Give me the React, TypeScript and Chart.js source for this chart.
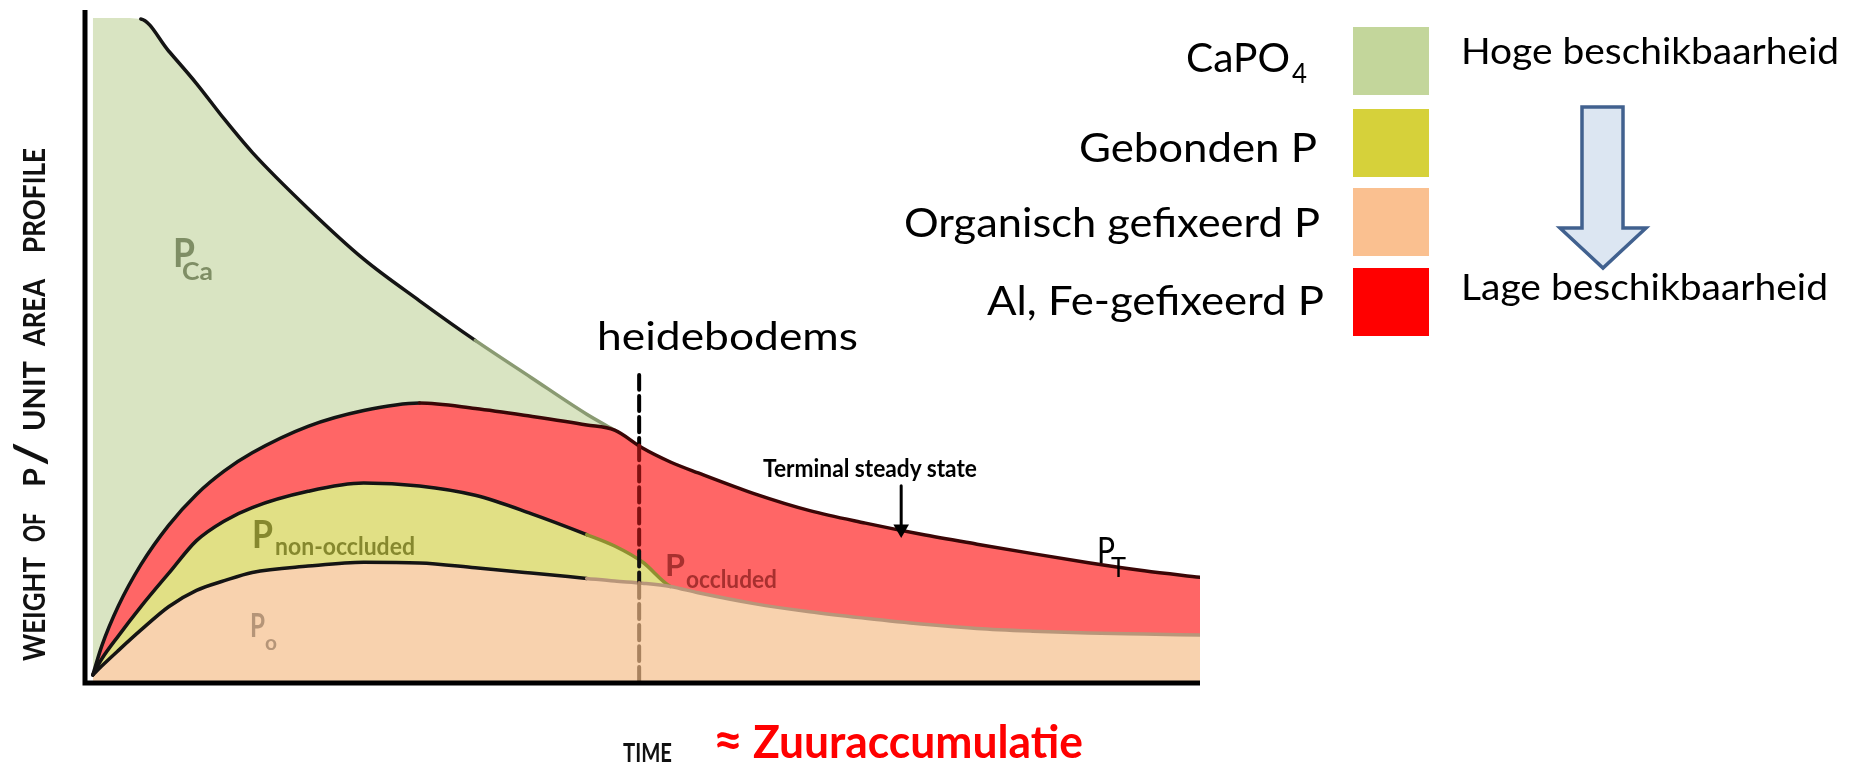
import React, { useEffect, useRef } from "react";
import { Chart, registerables } from "chart.js";
Chart.register(...registerables);

// Time axis (0..100) and weight of P (0..100)
const TIME = [0.7, 1.5, 3, 5, 7.5, 10, 12.5, 15, 20, 25, 30, 35, 40, 45, 47.5, 50, 52.5, 55, 60, 65, 70, 75, 80, 85, 90, 95, 100];
const P_ORGANIC = [1.2, 2.53, 4.86, 7.87, 11.37, 13.8, 15.25, 16.48, 17.42, 18.0, 17.9, 17.17, 16.39, 15.59, 15.19, 14.87, 14.38, 13.44, 11.83, 10.61, 9.64, 8.78, 8.12, 7.72, 7.44, 7.29, 7.15];
const P_NONOCCLUDED_TOP = [1.2, 3.58, 7.03, 11.34, 16.33, 21.22, 24.16, 26.15, 28.57, 29.81, 29.36, 27.97, 25.25, 22.12, 20.42, 18.03, 14.38, 13.44, 11.83, 10.61, 9.64, 8.78, 8.12, 7.72, 7.44, 7.29, 7.15];
const P_TOTAL_NON_CA = [1.2, 5.5, 11.5, 17.6, 23.5, 28.1, 31.6, 34.3, 38.24, 40.6, 41.73, 40.91, 39.75, 38.46, 37.68, 35.02, 32.94, 31.3, 28.23, 25.69, 23.83, 22.16, 20.69, 19.28, 17.93, 16.72, 15.74];
const P_TOTAL = [99.1, 99.1, 99.1, 98.96, 94.19, 89.34, 84.02, 79.08, 70.72, 63.16, 56.96, 51.06, 45.54, 40.06, 37.68, null, null, null, null, null, null, null, null, null, null, null, null];

// "heidebodems" marker (dashed line) and terminal steady state arrow
const HEIDE_T = 49.7;
const HEIDE_LEVELS = [45.9, 35.4, 19.6, 14.9, 0];
const TERMINAL_T = 73.2;
const TERMINAL_LEVELS = [29.4, 22.95];

const LEGEND_ITEMS = ["CaPO", "Gebonden P", "Organisch gefixeerd P", "Al, Fe-gefixeerd P"];
const LEGEND_COLORS = ["#c3d69b", "#d6d13a", "#fac090", "#ff0000"];

const F = "Lato, 'Open Sans', sans-serif";

export default function App() {
  const ref = useRef<HTMLCanvasElement>(null);
  useEffect(() => {
    if (!ref.current) return;
    const pts = (ys: (number | null)[]) => TIME.map((t, i) => ({ x: t, y: ys[i] }));
    const axesPlugin = {
      id: "axesLines",
      afterDatasetsDraw(chart: any) {
        const { ctx, chartArea: a, scales } = chart;
        ctx.save();
        ctx.strokeStyle = "#000";
        ctx.lineWidth = 5;
        ctx.lineJoin = "miter";
        ctx.beginPath();
        ctx.moveTo(a.left, scales.y.getPixelForValue(100) - 2);
        ctx.lineTo(a.left, a.bottom);
        ctx.lineTo(a.right, a.bottom);
        ctx.stroke();
        ctx.restore();
      },
    };
    const area = (label: string, ys: (number | null)[], fill: any, color: string) => ({
      label,
      data: pts(ys),
      fill,
      backgroundColor: color,
      borderColor: "rgba(0,0,0,0)",
      borderWidth: 0,
      order: 2,
    });
    const edge = (label: string, ys: (number | null)[], colorAt: (x: number) => string) => ({
      label,
      data: pts(ys),
      fill: false,
      borderColor: "#141414",
      borderWidth: 3.5,
      segment: { borderColor: (c: any) => colorAt(c.p0.parsed.x) },
      order: 1,
    });
    const none = "rgba(0,0,0,0)";
    const chart = new Chart(ref.current, {
      type: "line",
      data: {
        datasets: [
          area("P_o", P_ORGANIC, "origin", "#f8d2ae"),
          area("P_non-occluded", P_NONOCCLUDED_TOP, "-1", "#e1e085"),
          area("P_occluded", P_TOTAL_NON_CA, "-1", "#ff6666"),
          area("P_Ca", P_TOTAL, "-1", "#d9e4c2"),
          edge("P_o line", P_ORGANIC, (x) => (x >= 45 ? "#b8967a" : "#141414")),
          edge("P_non-occluded line", P_NONOCCLUDED_TOP, (x) => (x >= 52 ? none : x >= 45 ? "#8f8f30" : "#141414")),
          edge("P_T line", P_TOTAL_NON_CA, (x) => (x >= 30 ? "#3a0606" : "#141414")),
          edge("P_Ca line", P_TOTAL, (x) => (x < 4.9 ? none : x >= 31 ? "#8a9a72" : "#141414")),
          {
            label: "heidebodems",
            data: HEIDE_LEVELS.map((v) => ({ x: HEIDE_T, y: v })),
            fill: false,
            borderWidth: 4,
            borderDash: [15, 6],
            tension: 0,
            borderColor: "#000",
            segment: {
              borderColor: (c: any) => ["#000", "#7e1010", "#111", "#a8825f"][c.p0DataIndex],
            },
            order: 0,
          },
          {
            label: "terminal",
            data: TERMINAL_LEVELS.map((v) => ({ x: TERMINAL_T, y: v })),
            fill: false,
            borderWidth: 3,
            tension: 0,
            borderColor: "#000",
            pointRadius: [0, 9],
            pointStyle: "triangle",
            pointRotation: 180,
            pointBackgroundColor: "#000",
            pointBorderWidth: 0,
            order: 0,
          },
        ] as any,
      },
      options: {
        animation: false,
        responsive: false,
        devicePixelRatio: 1,
        layout: { padding: { left: 85, right: 653, top: 12, bottom: 81 } },
        elements: {
          point: { radius: 0, hoverRadius: 0 },
          line: { cubicInterpolationMode: "monotone", borderCapStyle: "round" },
        },
        scales: {
          x: { type: "linear", min: 0, max: 100, display: false },
          y: { type: "linear", min: 0, max: 100, display: false },
        },
        plugins: { legend: { display: false }, tooltip: { enabled: false } },
      } as any,
      plugins: [axesPlugin],
    });
    return () => chart.destroy();
  }, []);

  const yWords: [string, number, number][] = [
    ["PROFILE", 253, 105],
    ["AREA", 346, 67],
    ["UNIT", 431, 70],
    ["P", 487, 19],
    ["OF", 542, 29],
    ["WEIGHT", 661, 104],
  ];
  const legendY = [72, 162, 237, 315];
  const legendX = [1186, 1079, 904, 987];
  const legendW = [104, 238, 416, 337];
  const swatchY = [27, 109, 188, 268];

  return (
    <div style={{ position: "absolute", left: 0, top: 0, width: 1853, height: 764, background: "#fff", overflow: "hidden" }}>
      <canvas ref={ref} width={1853} height={764} style={{ position: "absolute", left: 0, top: 0, width: 1853, height: 764 }} />
      <svg width={1853} height={764} style={{ position: "absolute", left: 0, top: 0, pointerEvents: "none" }} fontFamily={F}>
        {/* Legend */}
        {LEGEND_ITEMS.map((s, i) => (
          <text key={s} x={legendX[i]} y={legendY[i]} fontSize={41} fill="#000" textLength={legendW[i]} lengthAdjust="spacingAndGlyphs">{s}</text>
        ))}
        <text x={1292} y={83} fontSize={27} fill="#000" textLength={15} lengthAdjust="spacingAndGlyphs">4</text>
        {LEGEND_COLORS.map((c, i) => (
          <rect key={c} x={1353} y={swatchY[i]} width={76} height={68} fill={c} />
        ))}
        <text x={1461} y={64} fontSize={36} fill="#000" textLength={378} lengthAdjust="spacingAndGlyphs">Hoge beschikbaarheid</text>
        <text x={1461} y={300} fontSize={36} fill="#000" textLength={367} lengthAdjust="spacingAndGlyphs">Lage beschikbaarheid</text>
        <polygon points="1582,107 1623,107 1623,228 1646,228 1603,268 1560,228 1582,228" fill="#dce6f2" stroke="#41618f" strokeWidth={3.5} strokeLinejoin="miter" />

        {/* Chart annotations */}
        <text x={597} y={350} fontSize={38} fill="#000" textLength={261} lengthAdjust="spacingAndGlyphs">heidebodems</text>
        <text x={623} y={762} fontSize={27} fontWeight={700} fill="#111" textLength={49} lengthAdjust="spacingAndGlyphs">TIME</text>
        <text x={713} y={758} fontSize={52} fontWeight={700} fill="#ff0000" textLength={30} lengthAdjust="spacingAndGlyphs">≈</text>
        <text x={753} y={758} fontSize={46} fontWeight={700} fill="#ff0000" textLength={330} lengthAdjust="spacingAndGlyphs">Zuuraccumulatie</text>
        <text x={763} y={477} fontSize={25} fontWeight={700} fill="#000" textLength={214} lengthAdjust="spacingAndGlyphs">Terminal steady state</text>

        <text x={1097} y={563} fontSize={37} fill="#000" textLength={18} lengthAdjust="spacingAndGlyphs">P</text>
        <text x={1111} y={577} fontSize={26} fill="#000" textLength={15} lengthAdjust="spacingAndGlyphs">T</text>

        <text x={665} y={576} fontSize={31} fontWeight={700} fill="#a8302f" textLength={20} lengthAdjust="spacingAndGlyphs">P</text>
        <text x={686} y={588} fontSize={25} fontWeight={700} fill="#a8302f" textLength={91} lengthAdjust="spacingAndGlyphs">occluded</text>

        <text x={173} y={267} fontSize={41} fontWeight={700} fill="#7f8e65" textLength={22} lengthAdjust="spacingAndGlyphs">P</text>
        <text x={182} y={280} fontSize={24} fontWeight={700} fill="#7f8e65" textLength={31} lengthAdjust="spacingAndGlyphs">Ca</text>

        <text x={252} y={548} fontSize={38} fontWeight={700} fill="#86882e" textLength={21} lengthAdjust="spacingAndGlyphs">P</text>
        <text x={275} y={555} fontSize={24} fontWeight={700} fill="#86882e" textLength={140} lengthAdjust="spacingAndGlyphs">non-occluded</text>

        <text x={250} y={637} fontSize={33} fontWeight={700} fill="#b59578" textLength={15} lengthAdjust="spacingAndGlyphs">P</text>
        <text x={265} y={650} fontSize={20} fontWeight={700} fill="#b59578" textLength={12} lengthAdjust="spacingAndGlyphs">o</text>

        {/* Y axis title */}
        {yWords.map(([w, y0, len]) => (
          <text key={w} transform={`translate(45, ${y0}) rotate(-90)`} fontSize={30} fontWeight={700} fill="#111" textLength={len} lengthAdjust="spacingAndGlyphs">{w}</text>
        ))}
        <text transform="translate(46, 466) rotate(-90)" fontSize={44} fontWeight={700} fill="#111" textLength={24} lengthAdjust="spacingAndGlyphs">/</text>
      </svg>
    </div>
  );
}
